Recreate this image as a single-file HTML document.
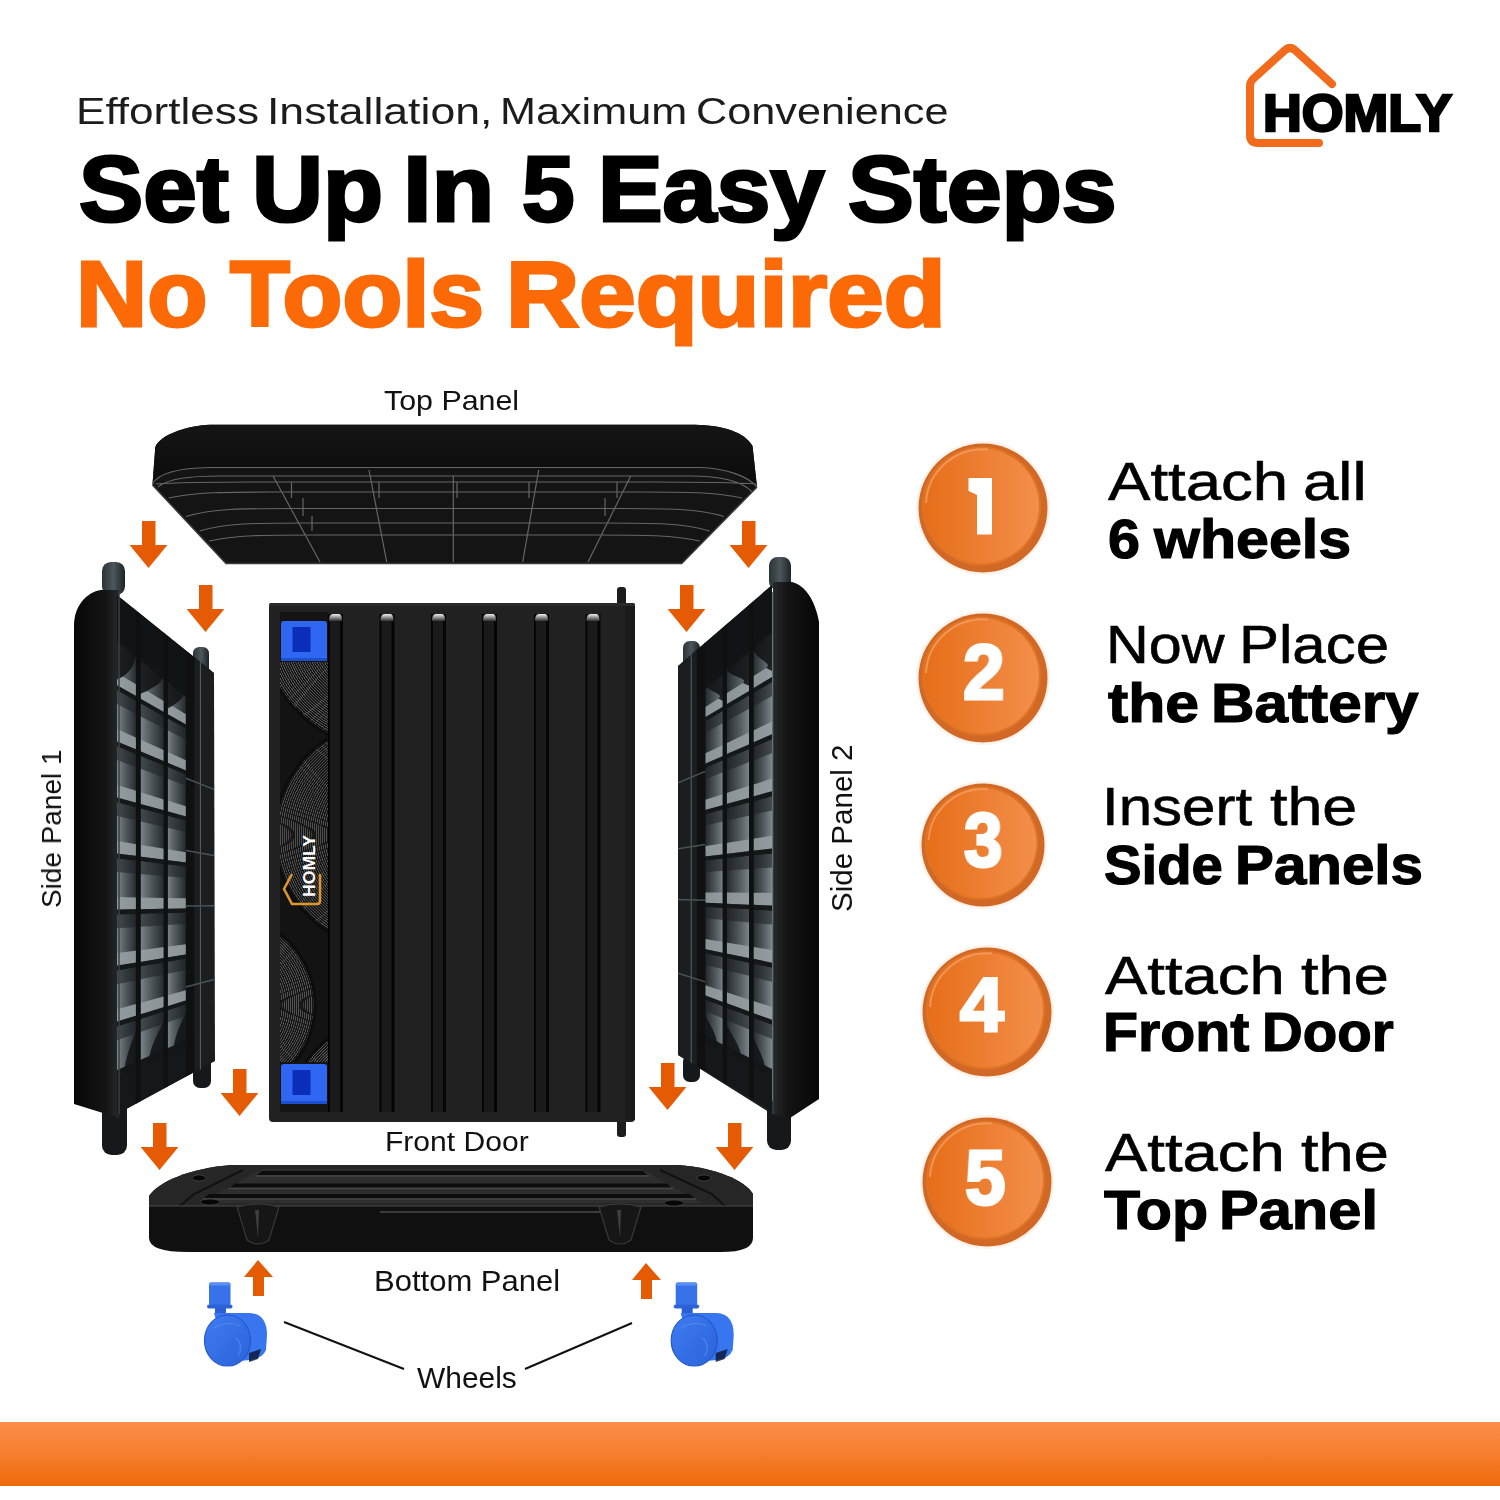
<!DOCTYPE html>
<html><head><meta charset="utf-8">
<style>
html,body{margin:0;padding:0;background:#fff;}
body{width:1500px;height:1500px;position:relative;overflow:hidden;font-family:"Liberation Sans",sans-serif;}
.t{position:absolute;white-space:nowrap;line-height:1;transform-origin:0 0;will-change:transform;}
svg{position:absolute;left:0;top:0;}
</style></head><body>
<svg width="1500" height="1500" viewBox="0 0 1500 1500">
<defs>
<linearGradient id="bar" x1="0" y1="0" x2="0" y2="1"><stop offset="0" stop-color="#FB8D4B"/><stop offset="0.5" stop-color="#F67E2F"/><stop offset="1" stop-color="#EE6A08"/></linearGradient>
<linearGradient id="face" x1="0" y1="0" x2="1" y2="0"><stop offset="0" stop-color="#E66E19"/><stop offset="1" stop-color="#F38F4B"/></linearGradient>
<linearGradient id="band1" x1="0" y1="0" x2="1" y2="0"><stop offset="0" stop-color="#070707"/><stop offset="0.7" stop-color="#141414"/><stop offset="1" stop-color="#262a2c"/></linearGradient>
<linearGradient id="band2" x1="1" y1="0" x2="0" y2="0"><stop offset="0" stop-color="#070707"/><stop offset="0.7" stop-color="#141414"/><stop offset="1" stop-color="#262a2c"/></linearGradient>
<linearGradient id="rim" x1="0" y1="0" x2="0" y2="1"><stop offset="0" stop-color="#151515"/><stop offset="1" stop-color="#0b0b0b"/></linearGradient>
<linearGradient id="cell" x1="0" y1="0" x2="0" y2="1"><stop offset="0" stop-color="#1b1f21"/><stop offset="0.5" stop-color="#4a5256"/><stop offset="1" stop-color="#2a3033"/></linearGradient>
<linearGradient id="peg" x1="0" y1="0" x2="1" y2="0"><stop offset="0" stop-color="#2b3336"/><stop offset="0.5" stop-color="#4c575b"/><stop offset="1" stop-color="#1d2326"/></linearGradient>
<linearGradient id="ribcap" x1="0" y1="0" x2="0" y2="1"><stop offset="0" stop-color="#f0f0f0"/><stop offset="1" stop-color="#303030"/></linearGradient>
<linearGradient id="btop" x1="0" y1="0" x2="0" y2="1"><stop offset="0" stop-color="#2c2c2c"/><stop offset="1" stop-color="#1f1f1f"/></linearGradient>
<linearGradient id="foot" x1="0" y1="0" x2="1" y2="0"><stop offset="0" stop-color="#0c0c0c"/><stop offset="0.45" stop-color="#5a5a5a"/><stop offset="1" stop-color="#111"/></linearGradient>
<linearGradient id="wface" x1="0" y1="0" x2="1" y2="1"><stop offset="0" stop-color="#3f7cf0"/><stop offset="1" stop-color="#2a62da"/></linearGradient>
<linearGradient id="cg1" x1="0" y1="0" x2="1" y2="0"><stop offset="0" stop-color="#7e878b"/><stop offset="0.35" stop-color="#5a6266"/><stop offset="1" stop-color="#23282b"/></linearGradient>
<linearGradient id="cg2" x1="1" y1="0" x2="0" y2="0"><stop offset="0" stop-color="#7e878b"/><stop offset="0.35" stop-color="#5a6266"/><stop offset="1" stop-color="#23282b"/></linearGradient>
<clipPath id="cp1"><path d="M117 595 L214 673 L215 1061 L124 1114 L117 1114Z"/></clipPath>
<clipPath id="cp2"><path d="M772 585 L678 666 L678 1055 L767 1108 L772 1114Z"/></clipPath>
<clipPath id="cpd"><rect x="280" y="662" width="48" height="400"/></clipPath>
<symbol id="arrow" viewBox="0 0 37 47"><path d="M12 0H25.5V24H37.5L18.5 47L-0.5 24H12Z" fill="#E45B04"/></symbol>
<symbol id="coin" viewBox="0 0 130 130" overflow="visible">
<circle cx="65" cy="65" r="67" fill="#FDEBDD" opacity="0.6"/>
<circle cx="65" cy="65" r="64.5" fill="#D26826"/>
<circle cx="63.5" cy="63" r="59.5" fill="#DE7424"/>
<circle cx="63.5" cy="63" r="57.5" fill="url(#face)"/>
<path d="M8 60 A57 57 0 0 1 70 6.5" fill="none" stroke="#F7A46C" stroke-width="2" opacity="0.7"/>
</symbol>
</defs>
<rect x="0" y="1422" width="1500" height="64" fill="url(#bar)"/>
<path d="M1332 84 L1296 51 Q1290 45 1284 51 L1253 79 Q1250 82 1250 86 L1250 135 Q1250 143 1258 143 L1319 143" fill="none" stroke="#F26B1D" stroke-width="8" stroke-linecap="round" stroke-linejoin="round"/>
<use href="#coin" x="918" y="443" width="130" height="130"/>
<use href="#coin" x="918" y="613" width="130" height="130"/>
<use href="#coin" x="921" y="783" width="124" height="124"/>
<use href="#coin" x="922" y="947" width="130" height="130"/>
<use href="#coin" x="922" y="1117" width="130" height="130"/>
<path d="M968.5 478 L992 478 L992 534.5 L977 534.5 L977 495 L968.5 491Z" fill="#fff"/>
<path d="M210 424.7 L695 424.7 C722 425 745 432 752.5 446 L757 487 L681.7 563.5 L226 563.5 L152.5 485 L155.3 447 C160 435 185 426 210 424.7Z" fill="#141414"/>
<path d="M210 424.7 L695 424.7 C722 425 745 432 752.5 446 L757 487 C748 476 725 468 700 467.5 L210 467.5 C175 468 158 474 152.5 484 L155.3 447 C160 435 185 426 210 424.7Z" fill="url(#rim)"/>
<path d="M152.5 484 C158 474 175 468 210 467.5 L700 467.5 C725 468 748 476 757 487 M158 487 C168 479 186 476 222 476 L690 476 C722 476 742 481 752 492 M155.6 484 C181.6 482 211.6 482 261.6 482 L650.0 482 C700.0 482 730.0 482 756.0 484 M168.7 498 C194.7 492 224.7 492 274.7 492 L636.2 492 C686.2 492 716.2 492 742.2 498 M186.0 516.5 C212.0 508.5 242.0 508.5 292.0 508.5 L618.0 508.5 C668.0 508.5 698.0 508.5 724.0 516.5 M199.6 531 C225.6 523 255.6 523 305.6 523 L603.7 523 C653.7 523 683.7 523 709.7 531 M208.9 541 C234.9 535 264.9 535 314.9 535 L593.9 535 C643.9 535 673.9 535 699.9 541 M273 476 L320 562 M369 470 L386.7 562 M453.3 476 L453.3 562 M538.7 470 L522.7 562 M630.7 476 L588 562 M291.5 482 L291.5 498 M303 498 L303 516 M312 516 L312 531 M457 482 L457 498 M529 482 L529 498 M605 498 L605 516 M617 482 L617 498 M379 482 L379 498" fill="none" stroke="#666" stroke-width="1.2"/>
<path d="M152.5 485 L226 563.5 L681.7 563.5 L757 487" fill="none" stroke="#3a3a3a" stroke-width="1.5"/>
<rect x="102" y="562" width="23" height="33" rx="8.8" fill="url(#peg)"/>
<rect x="193" y="647" width="16" height="33" rx="6.2" fill="url(#peg)"/>
<rect x="102" y="1100" width="25" height="55" rx="9.6" fill="#15191b"/>
<rect x="193" y="1055" width="18" height="33" rx="6.9" fill="#15191b"/>
<path d="M74 625 C74 607 86 592 101 590 L119 590 L119 1118 L74 1104Z" fill="url(#band1)"/>
<path d="M117 595 L214 673 L215 1061 L117 1114Z" fill="#1c2022"/>
<g clip-path="url(#cp1)">
<path d="M117.0 641.7 L136.9 655.3 L136.9 1068.7 L117.0 1077.7Z" fill="url(#cg1)"/>
<path d="M117.0 672.9 L136.9 684.8 L136.9 696.6 L117.0 685.3Z" fill="#969ea2" opacity="0.9"/>
<path d="M117.0 685.3 L136.9 696.6 L136.9 701.5 L117.0 690.5Z" fill="#15181a"/>
<path d="M117.0 690.5 L136.9 701.5 L136.9 714.3 L117.0 704.0Z" fill="#1e2326" opacity="0.6"/>
<path d="M117.0 728.9 L136.9 738.0 L136.9 749.8 L117.0 741.4Z" fill="#969ea2" opacity="0.9"/>
<path d="M117.0 741.4 L136.9 749.8 L136.9 754.7 L117.0 746.5Z" fill="#15181a"/>
<path d="M117.0 746.5 L136.9 754.7 L136.9 767.5 L117.0 760.0Z" fill="#1e2326" opacity="0.6"/>
<path d="M117.0 785.0 L136.9 791.1 L136.9 802.9 L117.0 797.4Z" fill="#969ea2" opacity="0.9"/>
<path d="M117.0 797.4 L136.9 802.9 L136.9 807.8 L117.0 802.6Z" fill="#15181a"/>
<path d="M117.0 802.6 L136.9 807.8 L136.9 820.6 L117.0 816.1Z" fill="#1e2326" opacity="0.6"/>
<path d="M117.0 841.0 L136.9 844.3 L136.9 856.1 L117.0 853.5Z" fill="#969ea2" opacity="0.9"/>
<path d="M117.0 853.5 L136.9 856.1 L136.9 861.0 L117.0 858.7Z" fill="#15181a"/>
<path d="M117.0 858.7 L136.9 861.0 L136.9 873.8 L117.0 872.1Z" fill="#1e2326" opacity="0.6"/>
<path d="M117.0 897.1 L136.9 897.4 L136.9 909.2 L117.0 909.5Z" fill="#969ea2" opacity="0.9"/>
<path d="M117.0 909.5 L136.9 909.2 L136.9 914.2 L117.0 914.7Z" fill="#15181a"/>
<path d="M117.0 914.7 L136.9 914.2 L136.9 926.9 L117.0 928.2Z" fill="#1e2326" opacity="0.6"/>
<path d="M117.0 953.1 L136.9 950.6 L136.9 962.4 L117.0 965.6Z" fill="#969ea2" opacity="0.9"/>
<path d="M117.0 965.6 L136.9 962.4 L136.9 967.3 L117.0 970.8Z" fill="#15181a"/>
<path d="M117.0 970.8 L136.9 967.3 L136.9 980.1 L117.0 984.2Z" fill="#1e2326" opacity="0.6"/>
<path d="M117.0 1009.2 L136.9 1003.7 L136.9 1015.5 L117.0 1021.6Z" fill="#969ea2" opacity="0.9"/>
<path d="M117.0 1021.6 L136.9 1015.5 L136.9 1020.5 L117.0 1026.8Z" fill="#15181a"/>
<path d="M117.0 1026.8 L136.9 1020.5 L136.9 1033.3 L117.0 1040.3Z" fill="#1e2326" opacity="0.6"/>
<path d="M139.8 657.3 L164.5 674.2 L164.5 1056.2 L139.8 1067.4Z" fill="url(#cg1)"/>
<path d="M139.8 686.6 L164.5 701.4 L164.5 712.4 L139.8 698.3Z" fill="#969ea2" opacity="0.9"/>
<path d="M139.8 698.3 L164.5 712.4 L164.5 716.9 L139.8 703.2Z" fill="#15181a"/>
<path d="M139.8 703.2 L164.5 716.9 L164.5 728.7 L139.8 715.9Z" fill="#1e2326" opacity="0.6"/>
<path d="M139.8 739.3 L164.5 750.6 L164.5 761.5 L139.8 751.0Z" fill="#969ea2" opacity="0.9"/>
<path d="M139.8 751.0 L164.5 761.5 L164.5 766.0 L139.8 755.9Z" fill="#15181a"/>
<path d="M139.8 755.9 L164.5 766.0 L164.5 777.8 L139.8 768.6Z" fill="#1e2326" opacity="0.6"/>
<path d="M139.8 792.0 L164.5 799.7 L164.5 810.6 L139.8 803.7Z" fill="#969ea2" opacity="0.9"/>
<path d="M139.8 803.7 L164.5 810.6 L164.5 815.1 L139.8 808.6Z" fill="#15181a"/>
<path d="M139.8 808.6 L164.5 815.1 L164.5 827.0 L139.8 821.3Z" fill="#1e2326" opacity="0.6"/>
<path d="M139.8 844.7 L164.5 848.8 L164.5 859.7 L139.8 856.5Z" fill="#969ea2" opacity="0.9"/>
<path d="M139.8 856.5 L164.5 859.7 L164.5 864.3 L139.8 861.3Z" fill="#15181a"/>
<path d="M139.8 861.3 L164.5 864.3 L164.5 876.1 L139.8 874.0Z" fill="#1e2326" opacity="0.6"/>
<path d="M139.8 897.5 L164.5 897.9 L164.5 908.8 L139.8 909.2Z" fill="#969ea2" opacity="0.9"/>
<path d="M139.8 909.2 L164.5 908.8 L164.5 913.4 L139.8 914.1Z" fill="#15181a"/>
<path d="M139.8 914.1 L164.5 913.4 L164.5 925.2 L139.8 926.8Z" fill="#1e2326" opacity="0.6"/>
<path d="M139.8 950.2 L164.5 947.0 L164.5 958.0 L139.8 961.9Z" fill="#969ea2" opacity="0.9"/>
<path d="M139.8 961.9 L164.5 958.0 L164.5 962.5 L139.8 966.8Z" fill="#15181a"/>
<path d="M139.8 966.8 L164.5 962.5 L164.5 974.3 L139.8 979.5Z" fill="#1e2326" opacity="0.6"/>
<path d="M139.8 1002.9 L164.5 996.2 L164.5 1007.1 L139.8 1014.6Z" fill="#969ea2" opacity="0.9"/>
<path d="M139.8 1014.6 L164.5 1007.1 L164.5 1011.6 L139.8 1019.5Z" fill="#15181a"/>
<path d="M139.8 1019.5 L164.5 1011.6 L164.5 1023.4 L139.8 1032.2Z" fill="#1e2326" opacity="0.6"/>
<path d="M166.5 675.5 L185.9 688.7 L185.9 1046.6 L166.5 1055.3Z" fill="url(#cg1)"/>
<path d="M166.5 702.6 L185.9 714.3 L185.9 724.5 L166.5 713.5Z" fill="#969ea2" opacity="0.9"/>
<path d="M166.5 713.5 L185.9 724.5 L185.9 728.8 L166.5 718.0Z" fill="#15181a"/>
<path d="M166.5 718.0 L185.9 728.8 L185.9 739.8 L166.5 729.7Z" fill="#1e2326" opacity="0.6"/>
<path d="M166.5 751.4 L185.9 760.3 L185.9 770.5 L166.5 762.3Z" fill="#969ea2" opacity="0.9"/>
<path d="M166.5 762.3 L185.9 770.5 L185.9 774.8 L166.5 766.8Z" fill="#15181a"/>
<path d="M166.5 766.8 L185.9 774.8 L185.9 785.8 L166.5 778.6Z" fill="#1e2326" opacity="0.6"/>
<path d="M166.5 800.3 L185.9 806.3 L185.9 816.5 L166.5 811.1Z" fill="#969ea2" opacity="0.9"/>
<path d="M166.5 811.1 L185.9 816.5 L185.9 820.8 L166.5 815.7Z" fill="#15181a"/>
<path d="M166.5 815.7 L185.9 820.8 L185.9 831.9 L166.5 827.4Z" fill="#1e2326" opacity="0.6"/>
<path d="M166.5 849.1 L185.9 852.3 L185.9 862.5 L166.5 860.0Z" fill="#969ea2" opacity="0.9"/>
<path d="M166.5 860.0 L185.9 862.5 L185.9 866.8 L166.5 864.5Z" fill="#15181a"/>
<path d="M166.5 864.5 L185.9 866.8 L185.9 877.9 L166.5 876.2Z" fill="#1e2326" opacity="0.6"/>
<path d="M166.5 898.0 L185.9 898.3 L185.9 908.5 L166.5 908.8Z" fill="#969ea2" opacity="0.9"/>
<path d="M166.5 908.8 L185.9 908.5 L185.9 912.8 L166.5 913.3Z" fill="#15181a"/>
<path d="M166.5 913.3 L185.9 912.8 L185.9 923.9 L166.5 925.1Z" fill="#1e2326" opacity="0.6"/>
<path d="M166.5 946.8 L185.9 944.3 L185.9 954.5 L166.5 957.6Z" fill="#969ea2" opacity="0.9"/>
<path d="M166.5 957.6 L185.9 954.5 L185.9 958.8 L166.5 962.2Z" fill="#15181a"/>
<path d="M166.5 962.2 L185.9 958.8 L185.9 969.9 L166.5 973.9Z" fill="#1e2326" opacity="0.6"/>
<path d="M166.5 995.6 L185.9 990.3 L185.9 1000.5 L166.5 1006.5Z" fill="#969ea2" opacity="0.9"/>
<path d="M166.5 1006.5 L185.9 1000.5 L185.9 1004.8 L166.5 1011.0Z" fill="#15181a"/>
<path d="M166.5 1011.0 L185.9 1004.8 L185.9 1015.9 L166.5 1022.8Z" fill="#1e2326" opacity="0.6"/>
<path d="M117.0 595.0 L214.0 673.0 L214.0 719.6 L117.0 641.7Z" fill="#111416"/>
<path d="M117.0 1069.9 L214.0 1028.0 L214.0 1061.0 L117.0 1114.0Z" fill="#15181a"/>
<path d="M117.0 639.1 L136.9 652.8 C133.9 666.8 131.0 670.4 123.0 676.4 L117.0 679.4Z" fill="#121517" opacity="0.9"/>
<path d="M124.0 1074.5 C125.0 1056.5 132.9 1039.3 136.9 1029.3 L136.9 1068.7Z" fill="#131618" opacity="0.9"/>
<path d="M139.8 654.8 L164.5 671.9 C161.5 685.9 155.2 685.0 147.2 691.0 L139.8 694.0Z" fill="#121517" opacity="0.9"/>
<path d="M148.5 1063.5 C149.5 1045.5 160.5 1029.8 164.5 1019.8 L164.5 1056.2Z" fill="#131618" opacity="0.9"/>
<path d="M166.5 673.2 L185.9 686.6 C182.9 700.6 180.3 700.1 172.3 706.1 L166.5 709.1Z" fill="#121517" opacity="0.9"/>
<path d="M173.3 1052.2 C174.3 1034.2 181.9 1022.5 185.9 1012.5 L185.9 1046.6Z" fill="#131618" opacity="0.9"/>
<path d="M135.9 610.2 L140.8 614.1 L140.8 1101.0 L135.9 1103.7Z" fill="#0e1012"/>
<path d="M163.6 632.4 L167.9 636.0 L167.9 1086.2 L163.6 1088.6Z" fill="#0e1012"/>
<path d="M185.9 650.4 L194.6 657.4 L194.6 1071.6 L185.9 1076.4Z" fill="#0e1012"/>
<path d="M194.6 657.4 L214.0 673.0 L214.0 1061.0 L194.6 1071.6Z" fill="#1a1e20"/>
<path d="M200.4 500 L200.4 1200" stroke="#5a6266" stroke-width="1"/>
<path d="M185.9 778.2 L214.0 789.4" stroke="#4a5256" stroke-width="1.5"/>
<path d="M185.9 850.6 L214.0 855.4" stroke="#4a5256" stroke-width="1.5"/>
<path d="M185.9 906.0 L214.0 905.8" stroke="#4a5256" stroke-width="1.5"/>
<path d="M185.9 986.9 L214.0 979.5" stroke="#4a5256" stroke-width="1.5"/>
</g>
<path d="M119 592 L119 1114" stroke="#3a4044" stroke-width="1.5"/>
<rect x="769" y="557" width="22" height="33" rx="8.5" fill="url(#peg)"/>
<rect x="683" y="641" width="17" height="30" rx="6.5" fill="url(#peg)"/>
<rect x="767" y="1100" width="24" height="50" rx="9.2" fill="#15191b"/>
<rect x="683" y="1055" width="17" height="27" rx="6.5" fill="#15191b"/>
<path d="M819 622 C815 600 805 585 792 582 L773 582 L773 1114 L790 1118 L819 1099Z" fill="url(#band2)"/>
<path d="M772 585 L678 666 L678 1055 L772 1114Z" fill="#1c2022"/>
<g clip-path="url(#cp2)">
<path d="M772.0 632.6 L752.7 646.6 L752.7 1066.9 L772.0 1077.0Z" fill="url(#cg2)"/>
<path d="M772.0 664.4 L752.7 676.6 L752.7 688.7 L772.0 677.0Z" fill="#969ea2" opacity="0.9"/>
<path d="M772.0 677.0 L752.7 688.7 L752.7 693.7 L772.0 682.3Z" fill="#15181a"/>
<path d="M772.0 682.3 L752.7 693.7 L752.7 706.7 L772.0 696.1Z" fill="#1e2326" opacity="0.6"/>
<path d="M772.0 721.5 L752.7 730.7 L752.7 742.7 L772.0 734.2Z" fill="#969ea2" opacity="0.9"/>
<path d="M772.0 734.2 L752.7 742.7 L752.7 747.7 L772.0 739.5Z" fill="#15181a"/>
<path d="M772.0 739.5 L752.7 747.7 L752.7 760.7 L772.0 753.2Z" fill="#1e2326" opacity="0.6"/>
<path d="M772.0 778.6 L752.7 784.7 L752.7 796.7 L772.0 791.3Z" fill="#969ea2" opacity="0.9"/>
<path d="M772.0 791.3 L752.7 796.7 L752.7 801.7 L772.0 796.6Z" fill="#15181a"/>
<path d="M772.0 796.6 L752.7 801.7 L752.7 814.7 L772.0 810.4Z" fill="#1e2326" opacity="0.6"/>
<path d="M772.0 835.7 L752.7 838.7 L752.7 850.8 L772.0 848.4Z" fill="#969ea2" opacity="0.9"/>
<path d="M772.0 848.4 L752.7 850.8 L752.7 855.8 L772.0 853.7Z" fill="#15181a"/>
<path d="M772.0 853.7 L752.7 855.8 L752.7 868.8 L772.0 867.5Z" fill="#1e2326" opacity="0.6"/>
<path d="M772.0 892.9 L752.7 892.8 L752.7 904.8 L772.0 905.6Z" fill="#969ea2" opacity="0.9"/>
<path d="M772.0 905.6 L752.7 904.8 L752.7 909.8 L772.0 910.9Z" fill="#15181a"/>
<path d="M772.0 910.9 L752.7 909.8 L752.7 922.8 L772.0 924.6Z" fill="#1e2326" opacity="0.6"/>
<path d="M772.0 950.0 L752.7 946.8 L752.7 958.8 L772.0 962.7Z" fill="#969ea2" opacity="0.9"/>
<path d="M772.0 962.7 L752.7 958.8 L752.7 963.8 L772.0 968.0Z" fill="#15181a"/>
<path d="M772.0 968.0 L752.7 963.8 L752.7 976.8 L772.0 981.8Z" fill="#1e2326" opacity="0.6"/>
<path d="M772.0 1007.1 L752.7 1000.8 L752.7 1012.9 L772.0 1019.8Z" fill="#969ea2" opacity="0.9"/>
<path d="M772.0 1019.8 L752.7 1012.9 L752.7 1017.9 L772.0 1025.1Z" fill="#15181a"/>
<path d="M772.0 1025.1 L752.7 1017.9 L752.7 1030.9 L772.0 1038.9Z" fill="#1e2326" opacity="0.6"/>
<path d="M749.9 648.7 L725.9 666.1 L725.9 1052.9 L749.9 1065.4Z" fill="url(#cg2)"/>
<path d="M749.9 678.4 L725.9 693.8 L725.9 704.8 L749.9 690.4Z" fill="#969ea2" opacity="0.9"/>
<path d="M749.9 690.4 L725.9 704.8 L725.9 709.4 L749.9 695.3Z" fill="#15181a"/>
<path d="M749.9 695.3 L725.9 709.4 L725.9 721.4 L749.9 708.2Z" fill="#1e2326" opacity="0.6"/>
<path d="M749.9 732.0 L725.9 743.5 L725.9 754.5 L749.9 743.9Z" fill="#969ea2" opacity="0.9"/>
<path d="M749.9 743.9 L725.9 754.5 L725.9 759.1 L749.9 748.9Z" fill="#15181a"/>
<path d="M749.9 748.9 L725.9 759.1 L725.9 771.1 L749.9 761.8Z" fill="#1e2326" opacity="0.6"/>
<path d="M749.9 785.6 L725.9 793.2 L725.9 804.2 L749.9 797.5Z" fill="#969ea2" opacity="0.9"/>
<path d="M749.9 797.5 L725.9 804.2 L725.9 808.9 L749.9 802.5Z" fill="#15181a"/>
<path d="M749.9 802.5 L725.9 808.9 L725.9 820.8 L749.9 815.4Z" fill="#1e2326" opacity="0.6"/>
<path d="M749.9 839.2 L725.9 842.9 L725.9 854.0 L749.9 851.1Z" fill="#969ea2" opacity="0.9"/>
<path d="M749.9 851.1 L725.9 854.0 L725.9 858.6 L749.9 856.1Z" fill="#15181a"/>
<path d="M749.9 856.1 L725.9 858.6 L725.9 870.5 L749.9 869.0Z" fill="#1e2326" opacity="0.6"/>
<path d="M749.9 892.8 L725.9 892.6 L725.9 903.7 L749.9 904.7Z" fill="#969ea2" opacity="0.9"/>
<path d="M749.9 904.7 L725.9 903.7 L725.9 908.3 L749.9 909.6Z" fill="#15181a"/>
<path d="M749.9 909.6 L725.9 908.3 L725.9 920.3 L749.9 922.5Z" fill="#1e2326" opacity="0.6"/>
<path d="M749.9 946.3 L725.9 942.4 L725.9 953.4 L749.9 958.3Z" fill="#969ea2" opacity="0.9"/>
<path d="M749.9 958.3 L725.9 953.4 L725.9 958.0 L749.9 963.2Z" fill="#15181a"/>
<path d="M749.9 963.2 L725.9 958.0 L725.9 970.0 L749.9 976.1Z" fill="#1e2326" opacity="0.6"/>
<path d="M749.9 999.9 L725.9 992.1 L725.9 1003.1 L749.9 1011.8Z" fill="#969ea2" opacity="0.9"/>
<path d="M749.9 1011.8 L725.9 1003.1 L725.9 1007.7 L749.9 1016.8Z" fill="#15181a"/>
<path d="M749.9 1016.8 L725.9 1007.7 L725.9 1019.7 L749.9 1029.7Z" fill="#1e2326" opacity="0.6"/>
<path d="M724.1 667.5 L705.3 681.2 L705.3 1042.0 L724.1 1051.9Z" fill="url(#cg2)"/>
<path d="M724.1 694.9 L705.3 706.9 L705.3 717.3 L724.1 705.9Z" fill="#969ea2" opacity="0.9"/>
<path d="M724.1 705.9 L705.3 717.3 L705.3 721.6 L724.1 710.5Z" fill="#15181a"/>
<path d="M724.1 710.5 L705.3 721.6 L705.3 732.7 L724.1 722.4Z" fill="#1e2326" opacity="0.6"/>
<path d="M724.1 744.4 L705.3 753.3 L705.3 763.7 L724.1 755.4Z" fill="#969ea2" opacity="0.9"/>
<path d="M724.1 755.4 L705.3 763.7 L705.3 768.0 L724.1 759.9Z" fill="#15181a"/>
<path d="M724.1 759.9 L705.3 768.0 L705.3 779.1 L724.1 771.8Z" fill="#1e2326" opacity="0.6"/>
<path d="M724.1 793.8 L705.3 799.7 L705.3 810.1 L724.1 804.8Z" fill="#969ea2" opacity="0.9"/>
<path d="M724.1 804.8 L705.3 810.1 L705.3 814.3 L724.1 809.4Z" fill="#15181a"/>
<path d="M724.1 809.4 L705.3 814.3 L705.3 825.5 L724.1 821.2Z" fill="#1e2326" opacity="0.6"/>
<path d="M724.1 843.2 L705.3 846.1 L705.3 856.5 L724.1 854.2Z" fill="#969ea2" opacity="0.9"/>
<path d="M724.1 854.2 L705.3 856.5 L705.3 860.7 L724.1 858.8Z" fill="#15181a"/>
<path d="M724.1 858.8 L705.3 860.7 L705.3 871.9 L724.1 870.7Z" fill="#1e2326" opacity="0.6"/>
<path d="M724.1 892.6 L705.3 892.5 L705.3 902.8 L724.1 903.6Z" fill="#969ea2" opacity="0.9"/>
<path d="M724.1 903.6 L705.3 902.8 L705.3 907.1 L724.1 908.2Z" fill="#15181a"/>
<path d="M724.1 908.2 L705.3 907.1 L705.3 918.3 L724.1 920.1Z" fill="#1e2326" opacity="0.6"/>
<path d="M724.1 942.1 L705.3 938.9 L705.3 949.2 L724.1 953.0Z" fill="#969ea2" opacity="0.9"/>
<path d="M724.1 953.0 L705.3 949.2 L705.3 953.5 L724.1 957.6Z" fill="#15181a"/>
<path d="M724.1 957.6 L705.3 953.5 L705.3 964.7 L724.1 969.5Z" fill="#1e2326" opacity="0.6"/>
<path d="M724.1 991.5 L705.3 985.3 L705.3 995.6 L724.1 1002.5Z" fill="#969ea2" opacity="0.9"/>
<path d="M724.1 1002.5 L705.3 995.6 L705.3 999.9 L724.1 1007.0Z" fill="#15181a"/>
<path d="M724.1 1007.0 L705.3 999.9 L705.3 1011.1 L724.1 1018.9Z" fill="#1e2326" opacity="0.6"/>
<path d="M772.0 585.0 L678.0 666.0 L678.0 712.7 L772.0 632.6Z" fill="#111416"/>
<path d="M772.0 1069.0 L678.0 1021.9 L678.0 1055.0 L772.0 1114.0Z" fill="#15181a"/>
<path d="M772.0 630.0 L752.7 644.1 C749.7 658.1 774.2 662.0 766.2 668.0 L772.0 671.0Z" fill="#121517" opacity="0.9"/>
<path d="M765.3 1073.4 C766.3 1055.4 748.7 1036.9 752.7 1026.9 L752.7 1066.9Z" fill="#131618" opacity="0.9"/>
<path d="M749.9 646.2 L725.9 663.8 C722.9 677.8 750.7 677.0 742.7 683.0 L749.9 686.0Z" fill="#121517" opacity="0.9"/>
<path d="M741.5 1061.0 C742.5 1043.0 721.9 1026.0 725.9 1016.0 L725.9 1052.9Z" fill="#131618" opacity="0.9"/>
<path d="M724.1 665.2 L705.3 679.0 C702.3 693.0 726.4 692.5 718.4 698.5 L724.1 701.5Z" fill="#121517" opacity="0.9"/>
<path d="M717.5 1048.4 C718.5 1030.4 701.3 1017.7 705.3 1007.7 L705.3 1042.0Z" fill="#131618" opacity="0.9"/>
<path d="M753.7 600.8 L749.0 604.8 L749.0 1099.5 L753.7 1102.5Z" fill="#0e1012"/>
<path d="M726.9 623.9 L722.6 627.5 L722.6 1083.0 L726.9 1085.7Z" fill="#0e1012"/>
<path d="M705.3 642.5 L696.8 649.8 L696.8 1066.8 L705.3 1072.1Z" fill="#0e1012"/>
<path d="M696.8 649.8 L678.0 666.0 L678.0 1055.0 L696.8 1066.8Z" fill="#1a1e20"/>
<path d="M691.2 500 L691.2 1200" stroke="#5a6266" stroke-width="1"/>
<path d="M705.3 771.4 L678.0 782.7" stroke="#4a5256" stroke-width="1.5"/>
<path d="M705.3 844.4 L678.0 848.8" stroke="#4a5256" stroke-width="1.5"/>
<path d="M705.3 900.3 L678.0 899.4" stroke="#4a5256" stroke-width="1.5"/>
<path d="M705.3 981.9 L678.0 973.3" stroke="#4a5256" stroke-width="1.5"/>
</g>
<path d="M773 592 L773 1114" stroke="#3a4044" stroke-width="1.5"/>
<defs><radialGradient id="rg0" gradientUnits="userSpaceOnUse" cx="390" cy="620" r="2.1" spreadMethod="repeat"><stop offset="0" stop-color="#555"/><stop offset="0.35" stop-color="#555"/><stop offset="0.45" stop-color="#151515"/><stop offset="1" stop-color="#151515"/></radialGradient><radialGradient id="rg1" gradientUnits="userSpaceOnUse" cx="390" cy="835" r="2.1" spreadMethod="repeat"><stop offset="0" stop-color="#4d4d4d"/><stop offset="0.35" stop-color="#4d4d4d"/><stop offset="0.45" stop-color="#151515"/><stop offset="1" stop-color="#151515"/></radialGradient><radialGradient id="rg2" gradientUnits="userSpaceOnUse" cx="225" cy="1005" r="2.1" spreadMethod="repeat"><stop offset="0" stop-color="#505050"/><stop offset="0.35" stop-color="#505050"/><stop offset="0.45" stop-color="#151515"/><stop offset="1" stop-color="#151515"/></radialGradient><radialGradient id="rg3" gradientUnits="userSpaceOnUse" cx="385" cy="1115" r="2.1" spreadMethod="repeat"><stop offset="0" stop-color="#5a5a5a"/><stop offset="0.35" stop-color="#5a5a5a"/><stop offset="0.45" stop-color="#151515"/><stop offset="1" stop-color="#151515"/></radialGradient></defs>
<rect x="617" y="587" width="9" height="20" rx="3" fill="#1c1c1c"/>
<rect x="617" y="1115" width="9" height="22" rx="3" fill="#1c1c1c"/>
<rect x="269" y="603" width="366" height="519" rx="4" fill="#212121"/>
<rect x="269" y="603" width="366" height="3" rx="1.5" fill="#2a2a2a"/>
<rect x="625" y="606" width="10" height="514" fill="#1a1a1a"/>
<rect x="280" y="612" width="48" height="500" fill="#141414"/>
<g clip-path="url(#cpd)">
<rect x="280" y="662" width="48" height="400" fill="#131313"/>
<circle cx="390" cy="620" r="130" fill="url(#rg0)"/>
<circle cx="390" cy="620" r="130" fill="none" stroke="#0c0c0c" stroke-width="3"/>
<circle cx="390" cy="835" r="115" fill="url(#rg1)"/>
<circle cx="390" cy="835" r="115" fill="none" stroke="#0c0c0c" stroke-width="3"/>
<circle cx="225" cy="1005" r="90" fill="url(#rg2)"/>
<circle cx="225" cy="1005" r="90" fill="none" stroke="#0c0c0c" stroke-width="3"/>
<circle cx="385" cy="1115" r="95" fill="url(#rg3)"/>
<circle cx="385" cy="1115" r="95" fill="none" stroke="#0c0c0c" stroke-width="3"/>
</g>
<rect x="328" y="614" width="15" height="498" fill="#050505"/>
<rect x="330" y="618" width="10" height="494" fill="#1a1a1a"/>
<path d="M329 621 Q329 614 333 614 L339 614 Q342 614 342 621 Z" fill="url(#ribcap)"/>
<rect x="379.5" y="614" width="15" height="498" fill="#050505"/>
<rect x="381.5" y="618" width="10" height="494" fill="#1a1a1a"/>
<path d="M380.5 621 Q380.5 614 384.5 614 L390.5 614 Q393.5 614 393.5 621 Z" fill="url(#ribcap)"/>
<rect x="431" y="614" width="15" height="498" fill="#050505"/>
<rect x="433" y="618" width="10" height="494" fill="#1a1a1a"/>
<path d="M432 621 Q432 614 436 614 L442 614 Q445 614 445 621 Z" fill="url(#ribcap)"/>
<rect x="482" y="614" width="15" height="498" fill="#050505"/>
<rect x="484" y="618" width="10" height="494" fill="#1a1a1a"/>
<path d="M483 621 Q483 614 487 614 L493 614 Q496 614 496 621 Z" fill="url(#ribcap)"/>
<rect x="534" y="614" width="15" height="498" fill="#050505"/>
<rect x="536" y="618" width="10" height="494" fill="#1a1a1a"/>
<path d="M535 621 Q535 614 539 614 L545 614 Q548 614 548 621 Z" fill="url(#ribcap)"/>
<rect x="585.5" y="614" width="15" height="498" fill="#050505"/>
<rect x="587.5" y="618" width="10" height="494" fill="#1a1a1a"/>
<path d="M586.5 621 Q586.5 614 590.5 614 L596.5 614 Q599.5 614 599.5 621 Z" fill="url(#ribcap)"/>
<rect x="281" y="621" width="46" height="40" rx="3" fill="#2F66F2"/>
<rect x="281" y="658" width="46" height="3" fill="#1d4fd0"/>
<rect x="292.5" y="627" width="18" height="25" fill="#0A2DBA"/>
<rect x="281" y="1064" width="46" height="40" rx="3" fill="#2F66F2"/>
<rect x="281" y="1101" width="46" height="3" fill="#1d4fd0"/>
<rect x="292.5" y="1070" width="18" height="25" fill="#0A2DBA"/>
<path d="M320 874 L320 901 Q320 904 317 904 L292 904 L284 889 L292 874" fill="none" stroke="#E0962E" stroke-width="2.5"/>
<text transform="translate(314.5 897) rotate(-90)" font-family="Liberation Sans" font-weight="bold" font-size="17" fill="#fff" textLength="62" lengthAdjust="spacingAndGlyphs">HOMLY</text>
<path d="M232 1165 L679 1165 C715 1168 745 1180 753 1194 L753 1238 Q753 1252 721 1252 L188 1252 Q149 1252 149 1238 L149 1196 C158 1182 190 1168 232 1165Z" fill="#101010"/>
<path d="M232 1165 L679 1165 C715 1168 745 1180 753 1194 L753 1206 L149 1206 L149 1196 C158 1182 190 1168 232 1165Z" fill="#262626"/>
<path d="M262 1169 L642 1169 L702 1203 L200 1203Z" fill="#2e2e2e"/>
<path d="M262 1171 L643 1171 L647 1175 L257 1175Z" fill="#0c0c0c"/>
<path d="M256 1176 L649 1176" stroke="#464646" stroke-width="1.6"/>
<path d="M235 1183.5 L667 1183.5 L671 1187.5 L230 1187.5Z" fill="#0c0c0c"/>
<path d="M229 1188.5 L673 1188.5" stroke="#464646" stroke-width="1.6"/>
<path d="M209 1194 L690 1194 L694 1198 L204 1198Z" fill="#0c0c0c"/>
<path d="M203 1199 L696 1199" stroke="#464646" stroke-width="1.6"/>
<path d="M243 1170 L194 1194 L180 1206 M660 1170 L712 1194 L725 1206" stroke="#111" stroke-width="2" fill="none"/>
<path d="M149 1206 C300 1206 600 1206 753 1206" stroke="#4a4a4a" stroke-width="1.2"/>
<path d="M380 1212 L600 1212" stroke="#bdbdbd" stroke-width="1" opacity="0.5"/>
<ellipse cx="199" cy="1178" rx="7" ry="3" fill="#060606" stroke="#444" stroke-width="0.8"/>
<ellipse cx="210" cy="1202" rx="10" ry="3" fill="#060606" stroke="#444" stroke-width="0.8"/>
<ellipse cx="704" cy="1178" rx="7" ry="3" fill="#060606" stroke="#444" stroke-width="0.8"/>
<ellipse cx="674" cy="1203" rx="10" ry="3" fill="#060606" stroke="#444" stroke-width="0.8"/>
<path d="M237 1207 Q258.0 1201 279 1207 L269 1240 Q258.0 1248 247 1240Z" fill="#161616" stroke="#3a3a3a" stroke-width="1.2"/>
<path d="M255.0 1210 L259.0 1210 L258.0 1238Z" fill="#5a5a5a" opacity="0.6"/>
<path d="M599 1207 Q620.0 1201 641 1207 L631 1240 Q620.0 1248 609 1240Z" fill="#161616" stroke="#3a3a3a" stroke-width="1.2"/>
<path d="M617.0 1210 L621.0 1210 L620.0 1238Z" fill="#5a5a5a" opacity="0.6"/>
<use href="#arrow" x="130" y="521" width="37" height="47"/>
<use href="#arrow" x="187" y="585" width="37" height="47"/>
<use href="#arrow" x="730" y="521" width="37" height="47"/>
<use href="#arrow" x="668" y="585" width="37" height="47"/>
<use href="#arrow" x="221" y="1069" width="37" height="47"/>
<use href="#arrow" x="141" y="1123" width="37" height="47"/>
<use href="#arrow" x="649" y="1063" width="37" height="47"/>
<use href="#arrow" x="716" y="1123" width="37" height="47"/>
<path d="M258 1260 L273 1277 L264 1277 L264 1296 L253 1296 L253 1277 L244 1277Z" fill="#E45B04"/>
<path d="M646 1263 L661 1280 L652 1280 L652 1299 L641 1299 L641 1280 L632 1280Z" fill="#E45B04"/>
<rect x="209" y="1282.5" width="21.5" height="23" rx="2" fill="#3872EA"/>
<rect x="209" y="1282.5" width="21.5" height="3" rx="1.5" fill="#5a8ff2"/>
<rect x="215" y="1305" width="11" height="9" fill="#2a5fd4"/>
<rect x="207" y="1304.5" width="25.5" height="4" rx="2" fill="#2D63D6"/>
<path d="M214 1313 L250 1313 Q267 1314 267 1335 L266 1350 Q263 1358 250 1360 L228 1362Z" fill="#3776EE"/>
<path d="M249 1353 L261 1349 L258 1359 L249 1362Z" fill="#0e1a3c" opacity="0.85"/>
<ellipse cx="227.5" cy="1340.5" rx="23" ry="25.5" fill="url(#wface)" stroke="#2358cf" stroke-width="1.2"/>
<path d="M214 1328 Q228 1320 240 1326 M236 1338 Q244 1345 238 1356" fill="none" stroke="#5b92f5" stroke-width="1.3" opacity="0.6"/>
<rect x="675.7" y="1282.5" width="21.5" height="23" rx="2" fill="#3872EA"/>
<rect x="675.7" y="1282.5" width="21.5" height="3" rx="1.5" fill="#5a8ff2"/>
<rect x="681.7" y="1305" width="11" height="9" fill="#2a5fd4"/>
<rect x="673.7" y="1304.5" width="25.5" height="4" rx="2" fill="#2D63D6"/>
<path d="M680.7 1313 L716.7 1313 Q733.7 1314 733.7 1335 L732.7 1350 Q729.7 1358 716.7 1360 L694.7 1362Z" fill="#3776EE"/>
<path d="M715.7 1353 L727.7 1349 L724.7 1359 L715.7 1362Z" fill="#0e1a3c" opacity="0.85"/>
<ellipse cx="694.2" cy="1340.5" rx="23" ry="25.5" fill="url(#wface)" stroke="#2358cf" stroke-width="1.2"/>
<path d="M680.7 1328 Q694.7 1320 706.7 1326 M702.7 1338 Q710.7 1345 704.7 1356" fill="none" stroke="#5b92f5" stroke-width="1.3" opacity="0.6"/>
<line x1="284" y1="1322" x2="404" y2="1369" stroke="#111" stroke-width="2"/>
<line x1="525" y1="1369" x2="632" y2="1323" stroke="#111" stroke-width="2"/>
</svg>
<div class="t" id="sub_0" style="left:75.50px;top:93.18px;font-size:37.79px;font-weight:normal;color:#1c1c1c;transform:scaleX(1.1667);">Effortless</div>
<div class="t" id="sub_1" style="left:266.86px;top:93.18px;font-size:37.79px;font-weight:normal;color:#1c1c1c;transform:scaleX(1.1789);">Installation,</div>
<div class="t" id="sub_2" style="left:499.57px;top:93.18px;font-size:37.79px;font-weight:normal;color:#1c1c1c;transform:scaleX(1.1430);">Maximum</div>
<div class="t" id="sub_3" style="left:695.71px;top:93.18px;font-size:37.79px;font-weight:normal;color:#1c1c1c;transform:scaleX(1.1447);">Convenience</div>
<div class="t" id="h1_0" style="left:78.75px;top:144.05px;font-size:91.86px;font-weight:bold;color:#000;-webkit-text-stroke:3.0px #000;transform:scaleX(1.0472);">Set</div>
<div class="t" id="h1_1" style="left:251.92px;top:144.05px;font-size:91.86px;font-weight:bold;color:#000;-webkit-text-stroke:3.0px #000;transform:scaleX(1.0707);">Up</div>
<div class="t" id="h1_2" style="left:402.92px;top:144.05px;font-size:91.86px;font-weight:bold;color:#000;-webkit-text-stroke:3.0px #000;transform:scaleX(1.1189);">In</div>
<div class="t" id="h1_3" style="left:521.57px;top:144.05px;font-size:91.86px;font-weight:bold;color:#000;-webkit-text-stroke:3.0px #000;transform:scaleX(1.0286);">5</div>
<div class="t" id="h1_4" style="left:598.08px;top:144.05px;font-size:91.86px;font-weight:bold;color:#000;-webkit-text-stroke:3.0px #000;transform:scaleX(1.0547);">Easy</div>
<div class="t" id="h1_5" style="left:848.23px;top:144.05px;font-size:91.86px;font-weight:bold;color:#000;-webkit-text-stroke:3.0px #000;transform:scaleX(1.0741);">Steps</div>
<div class="t" id="h2_0" style="left:76.25px;top:248.91px;font-size:92.15px;font-weight:bold;color:#FC6A07;-webkit-text-stroke:3.0px #FC6A07;transform:scaleX(1.0707);">No</div>
<div class="t" id="h2_1" style="left:229.90px;top:248.91px;font-size:92.15px;font-weight:bold;color:#FC6A07;-webkit-text-stroke:3.0px #FC6A07;transform:scaleX(1.0633);">Tools</div>
<div class="t" id="h2_2" style="left:506.20px;top:248.91px;font-size:92.15px;font-weight:bold;color:#FC6A07;-webkit-text-stroke:3.0px #FC6A07;transform:scaleX(1.1008);">Required</div>
<div class="t" id="logo" style="left:1263.09px;top:88.19px;font-size:51.02px;font-weight:bold;color:#000;-webkit-text-stroke:2.5px #000;transform:scaleX(1.0531);">HOMLY</div>
<div class="t" id="l1" style="left:383.80px;top:386.01px;font-size:28.49px;font-weight:normal;color:#111;transform:scaleX(1.0664);">Top Panel</div>
<div class="t" id="l2" style="left:385.45px;top:1128.00px;font-size:27.91px;font-weight:normal;color:#111;transform:scaleX(1.0771);">Front Door</div>
<div class="t" id="l3" style="left:373.64px;top:1266.67px;font-size:28.78px;font-weight:normal;color:#111;transform:scaleX(1.0781);">Bottom Panel</div>
<div class="t" id="l4" style="left:416.70px;top:1363.92px;font-size:29.07px;font-weight:normal;color:#111;transform:scaleX(1.0302);">Wheels</div>
<div class="t" id="s1a_0" style="left:1108.40px;top:455.30px;font-size:53.92px;font-weight:normal;color:#000;-webkit-text-stroke:0.6px #000;transform:scaleX(1.1793);">Attach</div>
<div class="t" id="s1a_1" style="left:1303.34px;top:455.30px;font-size:53.92px;font-weight:normal;color:#000;-webkit-text-stroke:0.6px #000;transform:scaleX(1.1776);">all</div>
<div class="t" id="s1b_0" style="left:1108.15px;top:512.14px;font-size:54.94px;font-weight:bold;color:#000;-webkit-text-stroke:1.2px #000;transform:scaleX(1.0464);">6</div>
<div class="t" id="s1b_1" style="left:1153.90px;top:512.14px;font-size:54.94px;font-weight:bold;color:#000;-webkit-text-stroke:1.2px #000;transform:scaleX(1.0758);">wheels</div>
<div class="t" id="s2a_0" style="left:1105.50px;top:617.90px;font-size:53.92px;font-weight:normal;color:#000;-webkit-text-stroke:0.6px #000;transform:scaleX(1.1000);">Now</div>
<div class="t" id="s2a_1" style="left:1238.55px;top:617.90px;font-size:53.92px;font-weight:normal;color:#000;-webkit-text-stroke:0.6px #000;transform:scaleX(1.1124);">Place</div>
<div class="t" id="s2b_0" style="left:1108.40px;top:676.14px;font-size:54.94px;font-weight:bold;color:#000;-webkit-text-stroke:1.2px #000;transform:scaleX(1.1049);">the</div>
<div class="t" id="s2b_1" style="left:1211.11px;top:676.14px;font-size:54.94px;font-weight:bold;color:#000;-webkit-text-stroke:1.2px #000;transform:scaleX(1.0968);">Battery</div>
<div class="t" id="s3a_0" style="left:1102.15px;top:780.30px;font-size:53.92px;font-weight:normal;color:#000;-webkit-text-stroke:0.6px #000;transform:scaleX(1.1130);">Insert</div>
<div class="t" id="s3a_1" style="left:1270.30px;top:780.30px;font-size:53.92px;font-weight:normal;color:#000;-webkit-text-stroke:0.6px #000;transform:scaleX(1.1630);">the</div>
<div class="t" id="s3b_0" style="left:1103.98px;top:838.14px;font-size:54.94px;font-weight:bold;color:#000;-webkit-text-stroke:1.2px #000;transform:scaleX(1.0246);">Side</div>
<div class="t" id="s3b_1" style="left:1234.72px;top:838.14px;font-size:54.94px;font-weight:bold;color:#000;-webkit-text-stroke:1.2px #000;transform:scaleX(1.0613);">Panels</div>
<div class="t" id="s4a_0" style="left:1105.00px;top:948.70px;font-size:53.92px;font-weight:normal;color:#000;-webkit-text-stroke:0.6px #000;transform:scaleX(1.1767);">Attach</div>
<div class="t" id="s4a_1" style="left:1300.90px;top:948.70px;font-size:53.92px;font-weight:normal;color:#000;-webkit-text-stroke:0.6px #000;transform:scaleX(1.1712);">the</div>
<div class="t" id="s4b_0" style="left:1102.57px;top:1005.34px;font-size:54.94px;font-weight:bold;color:#000;-webkit-text-stroke:1.2px #000;transform:scaleX(1.0431);">Front</div>
<div class="t" id="s4b_1" style="left:1262.11px;top:1005.34px;font-size:54.94px;font-weight:bold;color:#000;-webkit-text-stroke:1.2px #000;transform:scaleX(1.0288);">Door</div>
<div class="t" id="s5a_0" style="left:1105.00px;top:1125.50px;font-size:53.92px;font-weight:normal;color:#000;-webkit-text-stroke:0.6px #000;transform:scaleX(1.1767);">Attach</div>
<div class="t" id="s5a_1" style="left:1300.90px;top:1125.50px;font-size:53.92px;font-weight:normal;color:#000;-webkit-text-stroke:0.6px #000;transform:scaleX(1.1712);">the</div>
<div class="t" id="s5b_0" style="left:1104.40px;top:1182.54px;font-size:54.94px;font-weight:bold;color:#000;-webkit-text-stroke:1.2px #000;transform:scaleX(1.0768);">Top</div>
<div class="t" id="s5b_1" style="left:1219.05px;top:1182.54px;font-size:54.94px;font-weight:bold;color:#000;-webkit-text-stroke:1.2px #000;transform:scaleX(1.0843);">Panel</div>
<div class="t" id="d2" style="left:962.63px;top:633.64px;font-size:77.03px;font-weight:bold;color:#fff;-webkit-text-stroke:3.0px #fff;transform:scaleX(0.9700);">2</div>
<div class="t" id="d3" style="left:963.60px;top:802.86px;font-size:75.58px;font-weight:bold;color:#fff;-webkit-text-stroke:3.0px #fff;transform:scaleX(0.9122);">3</div>
<div class="t" id="d4" style="left:959.60px;top:967.86px;font-size:75.58px;font-weight:bold;color:#fff;-webkit-text-stroke:3.0px #fff;transform:scaleX(1.0419);">4</div>
<div class="t" id="d5" style="left:965.07px;top:1138.41px;font-size:78.49px;font-weight:bold;color:#fff;-webkit-text-stroke:3.0px #fff;transform:scaleX(0.9286);">5</div>
<div class="t" id="v1" style="left:36.96px;top:908.30px;font-size:28.2px;color:#111;transform:rotate(-90deg) scaleX(0.9911);">Side Panel 1</div>
<div class="t" id="v2" style="left:827.62px;top:912.30px;font-size:28.6px;color:#111;transform:rotate(-90deg) scaleX(1.0331);">Side Panel 2</div>
</body></html>
